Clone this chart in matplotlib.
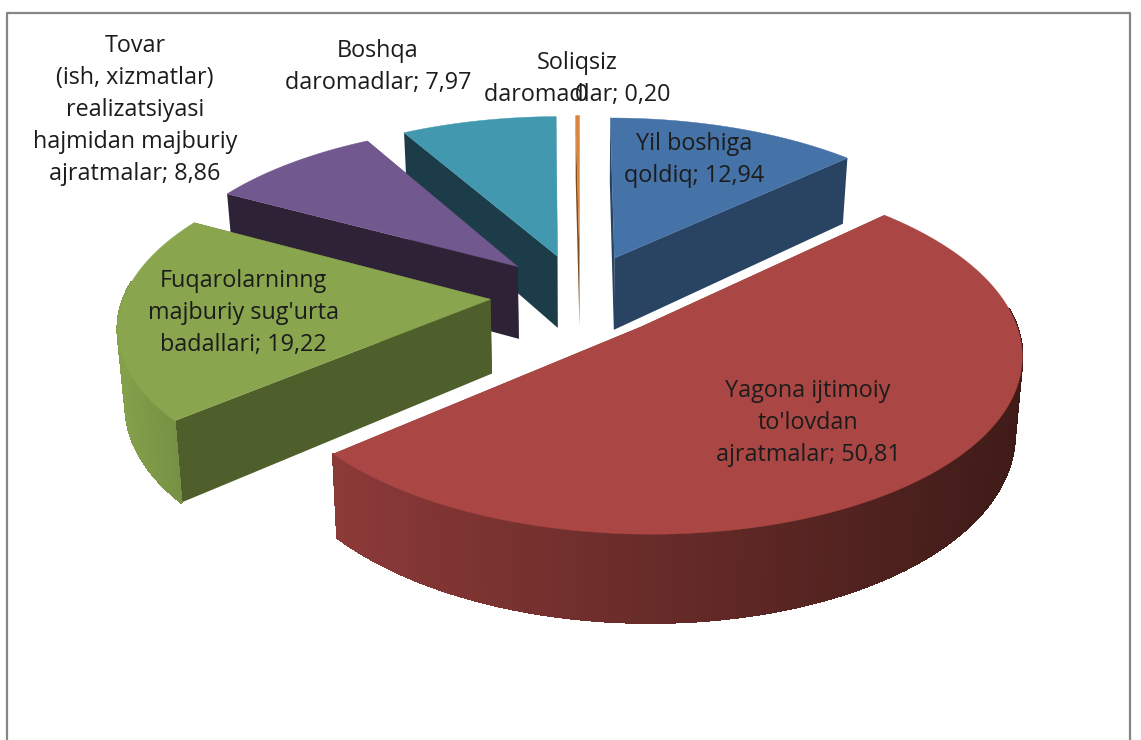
import numpy as np
import matplotlib
matplotlib.use('Agg')
import matplotlib.pyplot as plt
from matplotlib.collections import PolyCollection
from matplotlib.colors import to_rgb

plt.rcParams['font.family'] = ['Open Sans', 'DejaVu Sans']

labels = ['Yil boshiga\nqoldiq; 12,94',
          "Yagona ijtimoiy\nto'lovdan\najratmalar; 50,81",
          "Fuqarolarninng\nmajburiy sug'urta\nbadallari; 19,22",
          'Tovar\n(ish, xizmatlar)\nrealizatsiyasi\nhajmidan majburiy\najratmalar; 8,86',
          'Boshqa\ndaromadlar; 7,97',
          'Soliqsiz\ndaromadlar; 0,20',
          '0']
values = [12.94, 50.81, 19.22, 8.86, 7.97, 0.20, 0]

top_colors = ['#4572a7', '#aa4643', '#89a54e', '#71588f', '#4198af', '#db843d', '#93a9cf']
face_colors = ['#294463', '#662a28', '#4f5f2b', '#2e2237', '#1b3c48', '#7a4a20', '#58657c']
wall_left = ['#294463', '#8c3a38', '#84a04b', '#2e2237', '#1b3c48', '#7a4a20', '#58657c']
wall_right = ['#294463', '#3f1b18', '#728c41', '#2e2237', '#1b3c48', '#7a4a20', '#58657c']

# slices are painted back to front
draw_order = [5, 4, 0, 3, 2, 1]

label_x = [694, 808, 243, 135, 378, 577, 582]
label_y = [160, 423, 313, 110, 67, 79, 95]

# projection of the tilted pie onto the page
cx, cy = 580, 295
radius = 366
tilt = 0.462
persp = 0.139
depth = 74
explode = 0.245
bottom_shrink = 0.983


def project(x, y, z):
    f = 1 / (1 + persp * y)
    shrink = 1 - (1 - bottom_shrink) * z
    return cx + radius * x * f * shrink, cy - radius * tilt * y * f + depth * z * f


def mix(c1, c2, t):
    a, b = np.array(to_rgb(c1)), np.array(to_rgb(c2))
    return tuple(a + (b - a) * t)


def draw_slice(ax, start, end, top, face, left, right):
    mid = (start + end) / 2
    ox, oy = explode * np.sin(mid), explode * np.cos(mid)

    ang = np.linspace(start, end, max(int(np.degrees(end - start)), 2) * 2)
    rim_x = ox + np.sin(ang)
    rim_y = oy + np.cos(ang)

    # the two flat cut faces
    for a in (start, end):
        px = [ox, ox + np.sin(a), ox + np.sin(a), ox]
        py = [oy, oy + np.cos(a), oy + np.cos(a), oy]
        pz = [0, 0, 1, 1]
        sx, sy = project(np.array(px), np.array(py), np.array(pz))
        ax.fill(sx, sy, color=face, lw=0)

    # outer wall, shaded strip by strip, only the part facing the viewer
    tx, ty = project(rim_x, rim_y, 0)
    bx, by = project(rim_x, rim_y, 1)
    polys, colors = [], []
    span = max(tx.max() - tx.min(), 1)
    for i in range(len(ang) - 1):
        if np.cos(ang[i]) > 0.1:
            continue
        polys.append([(tx[i], ty[i]), (tx[i + 1], ty[i + 1]), (bx[i + 1], by[i + 1]), (bx[i], by[i])])
        colors.append(mix(left, right, (tx[i] - tx.min()) / span))
    if polys:
        ax.add_collection(PolyCollection(polys, facecolors=colors, edgecolors=colors, linewidths=1.0,
                                         antialiaseds=False))

    # top face
    ax_x, ax_y = project(np.array([ox]), np.array([oy]), 0)
    ax.fill(np.r_[ax_x, tx], np.r_[ax_y, ty], color=top, lw=0.3)


fig = plt.figure(figsize=(11.41, 7.40), dpi=100)
ax = fig.add_axes([0, 0, 1, 1])
ax.set_xlim(0, 1141)
ax.set_ylim(740, 0)
ax.axis('off')

# chart frame, cut off at the bottom
ax.plot([6.5, 6.5, 1130, 1130], [740, 13, 13, 740], color='#868686', lw=1.6)

edges = np.radians(np.r_[0, np.cumsum(values)] * 3.6)
for i in draw_order:
    draw_slice(ax, edges[i], edges[i + 1], top_colors[i], face_colors[i], wall_left[i], wall_right[i])

for i in range(len(labels)):
    ax.text(label_x[i], label_y[i], labels[i], ha='center', va='center', fontsize=16.8,
            linespacing=1.45, color='#1c1c1c')

fig.savefig('out.png', dpi=100)
